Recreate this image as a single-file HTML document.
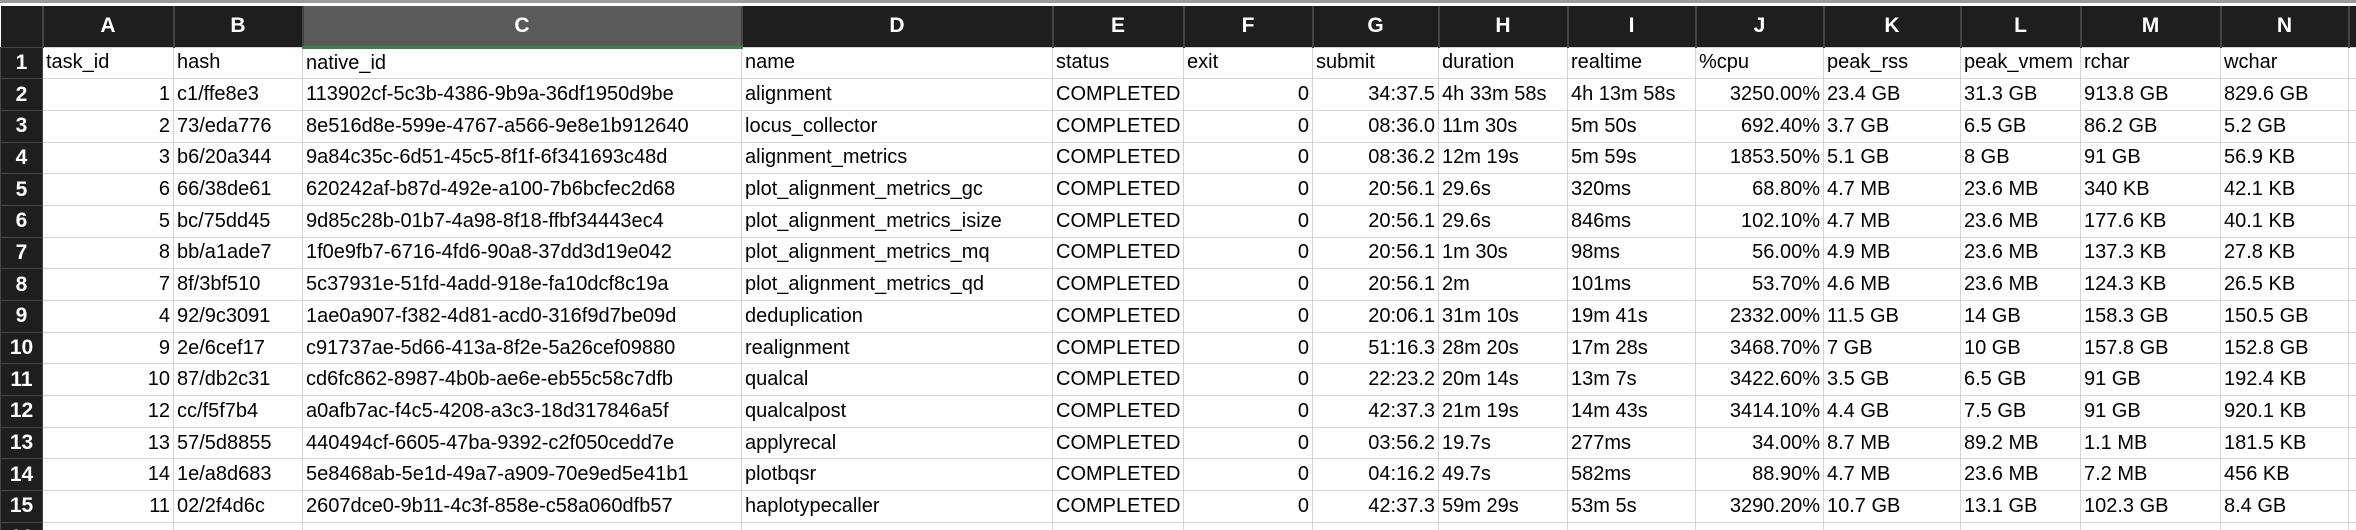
<!DOCTYPE html>
<html><head><meta charset="utf-8">
<style>
html,body{margin:0;padding:0;background:#fff;width:2356px;height:530px;overflow:hidden}
table{width:2356px;border-collapse:collapse;table-layout:fixed;position:absolute;left:0;top:3px;font-family:"Liberation Sans Narrow","Liberation Sans",sans-serif;font-size:20px;color:#000}
body{border-top:3px solid #9a9a9a;box-sizing:border-box;position:relative}
td,th{overflow:hidden;white-space:nowrap;padding:0 3px;box-sizing:border-box}
th{background:#1e1e1e;color:#fff;font-weight:bold;height:41px;border-right:2px solid #444;text-align:center;font-size:21px}
th.sel{background:#5a5a5a;border-bottom:3px solid #3f7d4b}
th.corner{background:#1e1e1e}
td{height:31.7px;border:1.5px solid #d4d4d4}
td.rh{background:#1e1e1e;color:#fff;font-weight:bold;border:1px solid #444;text-align:center;font-size:21px;padding:0}
td.r{text-align:right}
</style></head><body>
<table>
<colgroup><col style="width:42px"><col style="width:131px"><col style="width:129px"><col style="width:439px"><col style="width:311px"><col style="width:131px"><col style="width:129px"><col style="width:126px"><col style="width:129px"><col style="width:128px"><col style="width:128px"><col style="width:137px"><col style="width:120px"><col style="width:140px"><col style="width:128px"><col style="width:8px"></colgroup>
<tr>
<th class="corner"></th>
<th>A</th>
<th>B</th>
<th class="sel">C</th>
<th>D</th>
<th>E</th>
<th>F</th>
<th>G</th>
<th>H</th>
<th>I</th>
<th>J</th>
<th>K</th>
<th>L</th>
<th>M</th>
<th>N</th>
<th></th>
</tr>
<tbody id="body"></tbody>
</table>
<script>
const rows=[
["task_id","hash","native_id","name","status","exit","submit","duration","realtime","%cpu","peak_rss","peak_vmem","rchar","wchar"],
["1","c1/ffe8e3","113902cf-5c3b-4386-9b9a-36df1950d9be","alignment","COMPLETED","0","34:37.5","4h 33m 58s","4h 13m 58s","3250.00%","23.4 GB","31.3 GB","913.8 GB","829.6 GB"],
["2","73/eda776","8e516d8e-599e-4767-a566-9e8e1b912640","locus_collector","COMPLETED","0","08:36.0","11m 30s","5m 50s","692.40%","3.7 GB","6.5 GB","86.2 GB","5.2 GB"],
["3","b6/20a344","9a84c35c-6d51-45c5-8f1f-6f341693c48d","alignment_metrics","COMPLETED","0","08:36.2","12m 19s","5m 59s","1853.50%","5.1 GB","8 GB","91 GB","56.9 KB"],
["6","66/38de61","620242af-b87d-492e-a100-7b6bcfec2d68","plot_alignment_metrics_gc","COMPLETED","0","20:56.1","29.6s","320ms","68.80%","4.7 MB","23.6 MB","340 KB","42.1 KB"],
["5","bc/75dd45","9d85c28b-01b7-4a98-8f18-ffbf34443ec4","plot_alignment_metrics_isize","COMPLETED","0","20:56.1","29.6s","846ms","102.10%","4.7 MB","23.6 MB","177.6 KB","40.1 KB"],
["8","bb/a1ade7","1f0e9fb7-6716-4fd6-90a8-37dd3d19e042","plot_alignment_metrics_mq","COMPLETED","0","20:56.1","1m 30s","98ms","56.00%","4.9 MB","23.6 MB","137.3 KB","27.8 KB"],
["7","8f/3bf510","5c37931e-51fd-4add-918e-fa10dcf8c19a","plot_alignment_metrics_qd","COMPLETED","0","20:56.1","2m","101ms","53.70%","4.6 MB","23.6 MB","124.3 KB","26.5 KB"],
["4","92/9c3091","1ae0a907-f382-4d81-acd0-316f9d7be09d","deduplication","COMPLETED","0","20:06.1","31m 10s","19m 41s","2332.00%","11.5 GB","14 GB","158.3 GB","150.5 GB"],
["9","2e/6cef17","c91737ae-5d66-413a-8f2e-5a26cef09880","realignment","COMPLETED","0","51:16.3","28m 20s","17m 28s","3468.70%","7 GB","10 GB","157.8 GB","152.8 GB"],
["10","87/db2c31","cd6fc862-8987-4b0b-ae6e-eb55c58c7dfb","qualcal","COMPLETED","0","22:23.2","20m 14s","13m 7s","3422.60%","3.5 GB","6.5 GB","91 GB","192.4 KB"],
["12","cc/f5f7b4","a0afb7ac-f4c5-4208-a3c3-18d317846a5f","qualcalpost","COMPLETED","0","42:37.3","21m 19s","14m 43s","3414.10%","4.4 GB","7.5 GB","91 GB","920.1 KB"],
["13","57/5d8855","440494cf-6605-47ba-9392-c2f050cedd7e","applyrecal","COMPLETED","0","03:56.2","19.7s","277ms","34.00%","8.7 MB","89.2 MB","1.1 MB","181.5 KB"],
["14","1e/a8d683","5e8468ab-5e1d-49a7-a909-70e9ed5e41b1","plotbqsr","COMPLETED","0","04:16.2","49.7s","582ms","88.90%","4.7 MB","23.6 MB","7.2 MB","456 KB"],
["11","02/2f4d6c","2607dce0-9b11-4c3f-858e-c58a060dfb57","haplotypecaller","COMPLETED","0","42:37.3","59m 29s","53m 5s","3290.20%","10.7 GB","13.1 GB","102.3 GB","8.4 GB"],
["","","","","","","","","","","","","",""]
];
const rightCols=[0,5,6,9];
const tb=document.getElementById('body');
rows.forEach((r,i)=>{
  const tr=document.createElement('tr');
  
  
  const h=document.createElement('td');h.className='rh';h.textContent=i+1;
  
  
  tr.appendChild(h);
  r.concat(['']).forEach((v,j)=>{
    const td=document.createElement('td');
    td.textContent=v;
    if(i>0&&rightCols.includes(j))td.className='r';
    
    
    tr.appendChild(td);
  });
  tb.appendChild(tr);
});
</script>
</body></html>
